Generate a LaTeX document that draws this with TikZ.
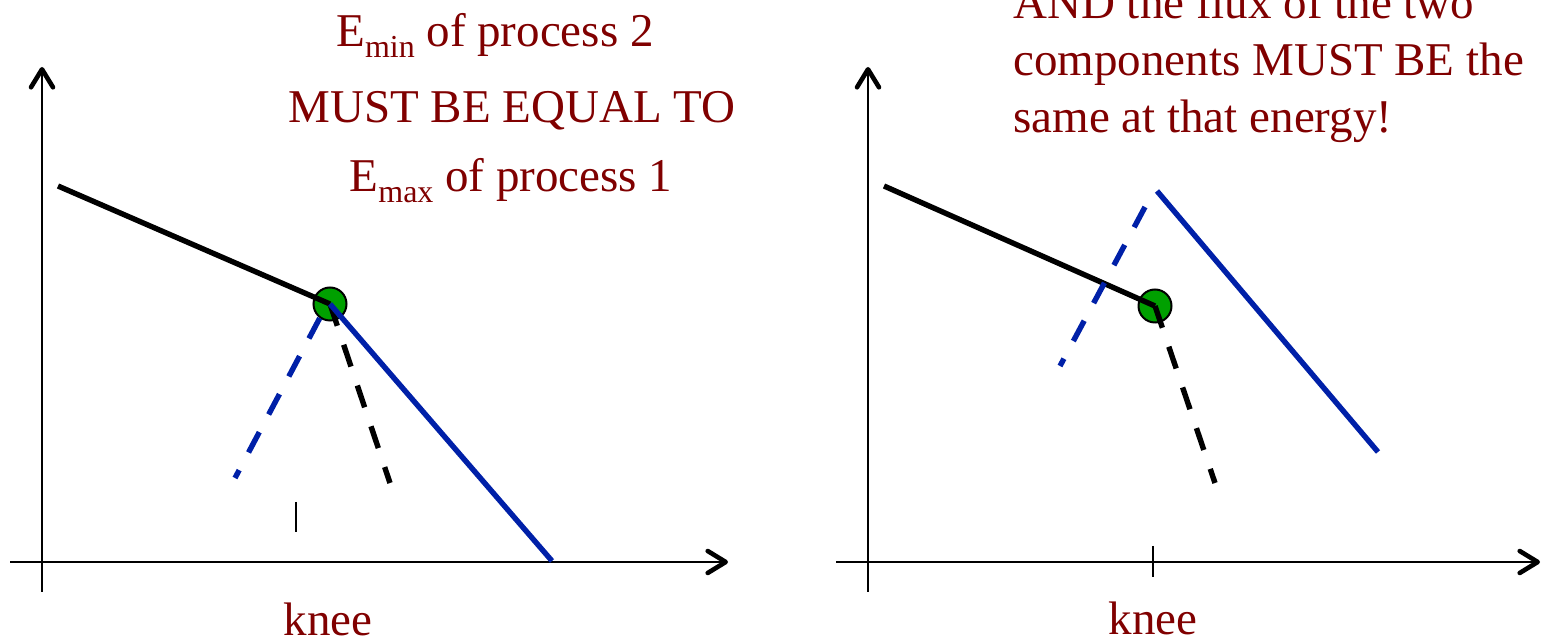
\documentclass[tikz,border=0pt]{standalone}
\usepackage{fontspec}
\setmainfont{Liberation Serif}
\usetikzlibrary{arrows.meta}
\definecolor{txtred}{RGB}{128,0,0}
\definecolor{lineblue}{RGB}{0,32,168}
\definecolor{dotgreen}{RGB}{0,160,0}
\newcommand\lowsub[1]{\raisebox{-5.5pt}{\fontsize{16}{16}\selectfont #1}}
\tikzset{
  axis/.style={line width=1.3pt,-{Straight Barb[length=9pt,width=11pt,line width=2.3pt,round]}},
  blackline/.style={line width=2.7pt,black},
  blueline/.style={line width=2.7pt,lineblue},
  dashline/.style={dash pattern=on 11.5pt off 10pt},
  knee/.style={circle,draw=black,line width=1pt,fill=dotgreen,minimum size=16.5pt,inner sep=0pt},
  tick/.style={line width=1.1pt,black},
  lbl/.style={text=txtred,font=\fontsize{23.5}{28}\selectfont,inner sep=0pt}
}
\begin{document}
\begin{tikzpicture}[x=0.5pt,y=-0.5pt]
\useasboundingbox (0,0) rectangle (1542,640);
\clip (0,0) rectangle (1542,640);
% ---------- left panel ----------
\coordinate (lx0) at (10,562);
\coordinate (lx1) at (728,562);
\coordinate (ly0) at (42,592);
\coordinate (ly1) at (42,67);
\draw[axis] (lx0) -- (lx1);
\draw[axis] (ly0) -- (ly1);
\coordinate (lt0) at (296,502);
\coordinate (lt1) at (296,532);
\draw[tick] (lt0) -- (lt1);
\node[knee] (k1) at (330,304) {};
\coordinate (la) at (58,186);
\coordinate (lbd) at (390,483);
\coordinate (lbs) at (552,561);
\coordinate (lbl) at (235,478);
\draw[blackline] (la) -- (k1.center);
\draw[blackline,dashline] (k1.center) -- (lbd);
\draw[blueline,dashline] (k1.234) -- (lbl);
\draw[blueline] (k1.center) -- (lbs);
\node[lbl,anchor=base] (kneeL) at (328,636) {knee};
\node[lbl,anchor=base] (t1) at (495,47) {E\lowsub{min} of process 2};
\node[lbl,anchor=base] (t2) at (512,123) {MUST BE EQUAL TO};
\node[lbl,anchor=base] (t3) at (511,192) {E\lowsub{max} of process 1};
% ---------- right panel ----------
\coordinate (rx0) at (836,562);
\coordinate (rx1) at (1540,562);
\coordinate (ry0) at (868,592);
\coordinate (ry1) at (868,67);
\draw[axis] (rx0) -- (rx1);
\draw[axis] (ry0) -- (ry1);
\coordinate (rt0) at (1153,546);
\coordinate (rt1) at (1153,577);
\draw[tick] (rt0) -- (rt1);
\node[knee] (k2) at (1155,306) {};
\coordinate (ra) at (884,186);
\coordinate (rbd) at (1215,483);
\coordinate (rbs0) at (1157,191);
\coordinate (rbs1) at (1378,452);
\coordinate (rbl0) at (1145,207);
\coordinate (rbl1) at (1060,366);
\draw[blackline] (ra) -- (k2.center);
\draw[blackline,dashline] (k2.center) -- (rbd);
\draw[blueline,dashline] (rbl0) -- (rbl1);
\draw[blueline] (rbs0) -- (rbs1);
\node[lbl,anchor=base] (kneeR) at (1153,635) {knee};
\node[lbl,anchor=base west] (r1) at (1013,19) {AND the flux of the two};
\node[lbl,anchor=base west] (r2) at (1013,76) {components MUST BE the};
\node[lbl,anchor=base west] (r3) at (1013,133) {same at that energy!};
\end{tikzpicture}
\end{document}
